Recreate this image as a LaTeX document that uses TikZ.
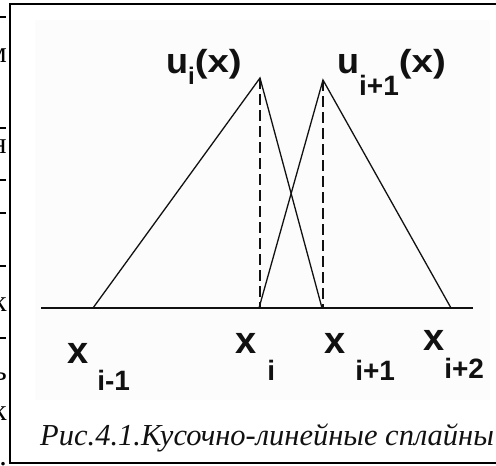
\documentclass[tikz,border=0pt]{standalone}
\usepackage{fontspec}
\setmainfont{Liberation Serif}
\newfontfamily\labelfont{Liberation Sans}
\usetikzlibrary{positioning}
\definecolor{Ink}{HTML}{111111}
\definecolor{Paper}{HTML}{FCFCFC}
\newcommand{\usans}{\labelfont\bfseries\fontsize{36}{38}\selectfont}
\newcommand{\bigsans}{\labelfont\bfseries\fontsize{38}{40}\selectfont}
\newcommand{\midsans}{\labelfont\bfseries\fontsize{32}{34}\selectfont}
\newcommand{\subsans}{\labelfont\bfseries\fontsize{28}{30}\selectfont}
\newcommand{\tinysans}{\labelfont\bfseries\fontsize{24}{26}\selectfont}
\newcommand{\knotlbl}[3]{{\bigsans x}\hspace{#1}\lower#2\hbox{\subsans #3}}
\newcommand{\argx}{\raise1pt\hbox{\midsans\scalebox{1.2}[1]{(x)}}}

\begin{document}
\begin{tikzpicture}[x=1pt,y=-1pt,
    spline/.style={line width=1.3pt,Ink},
    guide/.style={spline,dash pattern=on 11pt off 5pt},
    axisline/.style={line width=2pt,Ink},
    lbl/.style={inner sep=0pt,anchor=base west,Ink},
    frag/.style={inner sep=0pt,anchor=base east,font=\fontsize{30}{32}\selectfont}]
  \useasboundingbox (0,0) rectangle (496,466);
  % cut-off text of the page at the left
  \foreach \y in {17,128,180,213,266,338}
    \draw[line width=1.3pt] (0,\y) -- (6,\y);
  \node[frag] (f1) at (7,62) {м};
  \node[frag] (f2) at (7,153) {н};
  \node[frag] (f3) at (7,311) {к};
  \node[frag] (f4) at (7,380) {ь};
  \node[frag] (f5) at (7,420) {к};
  \node[frag] (f6) at (7,465) {.};
  % figure frame
  \draw[line width=2pt] (10,4) rectangle (510,463);
  \fill[Paper] (35,20) rectangle (490,400);

  % knots and peaks
  \coordinate (axL) at (41,308);
  \coordinate (axR) at (473,308);
  \coordinate (a0) at (93,308);
  \coordinate (a1) at (259,308);
  \coordinate (a2) at (322,308);
  \coordinate (a3) at (451,308);
  \coordinate (p1) at (260,78);
  \coordinate (p2) at (323,80);

  \draw[axisline] (axL) -- (axR);
  \draw[spline] (a0) -- (p1) -- (a2);
  \draw[spline] (a1) -- (p2) -- (a3);
  \draw[guide] (p1) -- (p1 |- axL);
  \draw[guide] (p2) -- (p2 |- axL);

  \node[lbl] (ui) at (166,73)
    {{\usans u}\lower11pt\hbox{\tinysans i}\argx};
  \node[lbl] (uip) at (337,73)
    {{\usans u}\lower22pt\hbox{\subsans i+1}\argx};

  \node[lbl] (xm1) at (67,363) {\knotlbl{9pt}{27pt}{i-1}};
  \node[lbl] (x0) at (235,353) {\knotlbl{11pt}{27pt}{i}};
  \node[lbl] (xp1) at (324,353) {\knotlbl{10pt}{27pt}{i+1}};
  \node[lbl] (xp2) at (423,350) {\knotlbl{0pt}{28pt}{i+2}};

  \node[lbl] (cap) at (40,445)
    {\itshape\fontsize{30.5}{32}\selectfont Рис.4.1.Кусочно-линейные сплайны};
\end{tikzpicture}
\end{document}
